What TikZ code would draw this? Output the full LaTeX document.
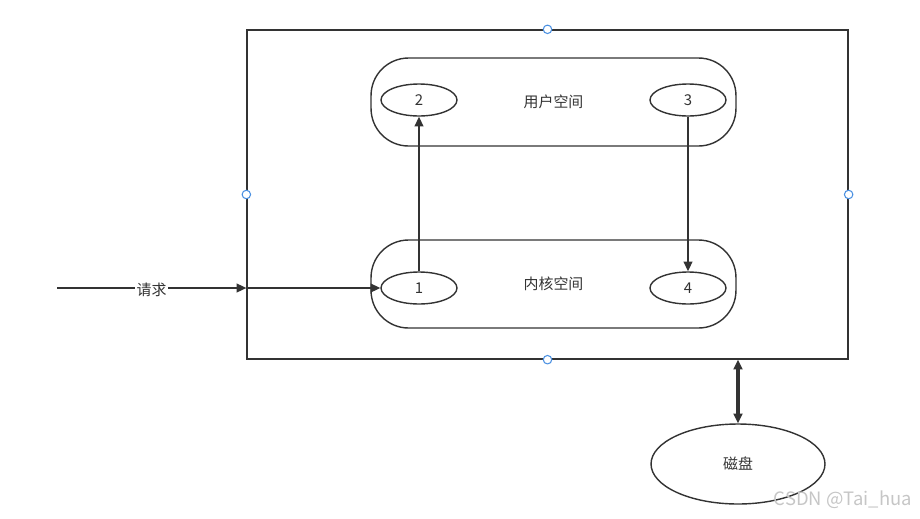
\documentclass[tikz,border=0pt]{standalone}
\usepackage{fontspec}
\setmainfont{Noto Sans CJK SC}
\usepackage{tikz}
\usetikzlibrary{arrows.meta,shapes.geometric}
\definecolor{ink}{HTML}{333333}
\definecolor{handle}{HTML}{4A90E2}

\begin{document}
\begin{tikzpicture}[x=0.02cm,y=-0.02cm,
  font=\fontsize{8.5}{10}\selectfont, text=ink,
  >={Triangle[length=5.5pt,width=5pt]},
  space/.style={draw=ink,line width=0.8pt,rounded corners=0.75cm,
    minimum width=7.3cm,minimum height=1.76cm},
  proc/.style={draw=ink,line width=0.8pt,ellipse,minimum width=1.52cm,
    minimum height=0.64cm,inner sep=0pt},
  link/.style={draw=ink,line width=0.8pt,->},
  grip/.style={circle,draw=handle,fill=white,line width=0.6pt,
    minimum size=0.17cm,inner sep=0pt}]
\useasboundingbox (0,0) rectangle (920,518);
% the host box
\node[draw=ink,line width=0.8pt,minimum width=12.02cm,minimum height=6.58cm]
  (host) at (547.5,194.5) {};
% user space and kernel space
\node[space] (user) at (553.5,102) {\raisebox{-1.5pt}{用户空间}};
\node[space] (kernel) at (553.5,284) {\raisebox{-1pt}{内核空间}};
% the four steps
\foreach \n/\x/\y in {1/419/288, 2/419/100, 3/688/100, 4/688/288}
  \node[proc] (p\n) at (\x,\y) {\n};
\draw[link] (p1.north) -- (p2.south);
\draw[link] (p3.south) -- (p4.north);
% the request coming in
\coordinate (src) at (57,288);
\draw[link] (src) -- node[fill=white,inner sep=1pt,yshift=-1pt] {请求} (src -| host.west);
\draw[link] (src -| host.west) -- (p1.west);
% the disk
\node[draw=ink,line width=0.8pt,ellipse,minimum width=3.48cm,minimum height=1.6cm]
  (disk) at (738,464) {磁盘};
\draw[draw=ink,line width=1.8pt,<->] (disk.north) -- (disk.north |- host.south);
% selection handles on the host box
\foreach \s in {north,south,east,west}
  \node[grip] (grip-\s) at (host.\s) {};
\node[gray!45,anchor=east,font=\fontsize{10.5}{12}\selectfont] (mark) at (918,500) {CSDN @Tai\_hua};
\end{tikzpicture}
\end{document}
